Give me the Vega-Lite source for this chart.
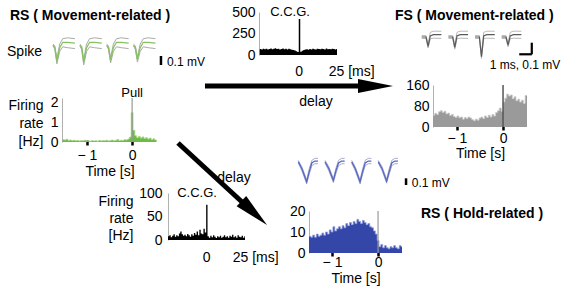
{
"$schema": "https://vega.github.io/schema/vega-lite/v6.json",
"width": 570, "height": 290, "padding": 0, "autosize": "none", "background": "white",
"config": {"view": {"stroke": null}, "font": "Liberation Sans",
  "axis": {"grid": false, "labelFont": "Liberation Sans", "titleFont": "Liberation Sans", "labelColor": "#000", "titleColor": "#000", "labelFontSize": 14, "titleFontSize": 14, "titleFontWeight": "normal", "domainColor": "#b0b0b0", "tickColor": "#000", "labelFlush": false, "labelOverlap": false}},
"datasets": {
 "green": [{"t":-1.54,"v":0.12},{"t":-1.50,"v":0.10},{"t":-1.46,"v":0.14},{"t":-1.42,"v":0.08},{"t":-1.38,"v":0.10},{"t":-1.34,"v":0.07},{"t":-1.30,"v":0.09},{"t":-1.26,"v":0.06},{"t":-1.22,"v":0.08},{"t":-1.18,"v":0.05},{"t":-1.14,"v":0.07},{"t":-1.10,"v":0.06},{"t":-1.06,"v":0.09},{"t":-1.02,"v":0.05},{"t":-0.98,"v":0.06},{"t":-0.94,"v":0.04},{"t":-0.90,"v":0.07},{"t":-0.86,"v":0.05},{"t":-0.82,"v":0.06},{"t":-0.78,"v":0.04},{"t":-0.74,"v":0.08},{"t":-0.70,"v":0.05},{"t":-0.66,"v":0.07},{"t":-0.62,"v":0.06},{"t":-0.58,"v":0.09},{"t":-0.54,"v":0.05},{"t":-0.50,"v":0.07},{"t":-0.46,"v":0.10},{"t":-0.42,"v":0.06},{"t":-0.38,"v":0.08},{"t":-0.34,"v":0.13},{"t":-0.30,"v":0.07},{"t":-0.26,"v":0.09},{"t":-0.22,"v":0.08},{"t":-0.18,"v":0.12},{"t":-0.14,"v":0.10},{"t":-0.10,"v":0.15},{"t":-0.06,"v":0.25},{"t":-0.02,"v":1.5},{"t":0.02,"v":0.6},{"t":0.06,"v":0.32},{"t":0.10,"v":0.22},{"t":0.14,"v":0.28},{"t":0.18,"v":0.20},{"t":0.22,"v":0.26},{"t":0.26,"v":0.18},{"t":0.30,"v":0.22},{"t":0.34,"v":0.15},{"t":0.38,"v":0.20},{"t":0.42,"v":0.12},{"t":0.46,"v":0.16},{"t":0.50,"v":0.10},{"t":0.54,"v":0.10}],
 "fs": [{"t":-1.52,"v":45},{"t":-1.48,"v":52},{"t":-1.44,"v":48},{"t":-1.40,"v":58},{"t":-1.36,"v":62},{"t":-1.32,"v":55},{"t":-1.28,"v":60},{"t":-1.24,"v":50},{"t":-1.20,"v":53},{"t":-1.16,"v":44},{"t":-1.12,"v":48},{"t":-1.08,"v":40},{"t":-1.04,"v":36},{"t":-1.00,"v":42},{"t":-0.96,"v":35},{"t":-0.92,"v":38},{"t":-0.88,"v":30},{"t":-0.84,"v":36},{"t":-0.80,"v":32},{"t":-0.76,"v":38},{"t":-0.72,"v":34},{"t":-0.68,"v":28},{"t":-0.64,"v":24},{"t":-0.60,"v":30},{"t":-0.56,"v":26},{"t":-0.52,"v":34},{"t":-0.48,"v":38},{"t":-0.44,"v":32},{"t":-0.40,"v":42},{"t":-0.36,"v":36},{"t":-0.32,"v":45},{"t":-0.28,"v":38},{"t":-0.24,"v":48},{"t":-0.20,"v":42},{"t":-0.16,"v":55},{"t":-0.12,"v":62},{"t":-0.08,"v":72},{"t":-0.04,"v":60},{"t":0.00,"v":95},{"t":0.04,"v":110},{"t":0.08,"v":125},{"t":0.12,"v":118},{"t":0.16,"v":122},{"t":0.20,"v":108},{"t":0.24,"v":115},{"t":0.28,"v":100},{"t":0.32,"v":106},{"t":0.36,"v":95},{"t":0.40,"v":102},{"t":0.44,"v":90},{"t":0.48,"v":120},{"t":0.52,"v":120}],
 "blue": [{"t":-1.50,"v":8},{"t":-1.46,"v":7.5},{"t":-1.42,"v":8.5},{"t":-1.38,"v":7.5},{"t":-1.34,"v":9},{"t":-1.30,"v":8},{"t":-1.26,"v":8.5},{"t":-1.22,"v":9.5},{"t":-1.18,"v":8.5},{"t":-1.14,"v":10},{"t":-1.10,"v":9},{"t":-1.06,"v":11},{"t":-1.02,"v":10},{"t":-0.98,"v":12.5},{"t":-0.94,"v":10.5},{"t":-0.90,"v":11.5},{"t":-0.86,"v":12.5},{"t":-0.82,"v":11.5},{"t":-0.78,"v":13},{"t":-0.74,"v":12},{"t":-0.70,"v":14},{"t":-0.66,"v":13},{"t":-0.62,"v":14.5},{"t":-0.58,"v":13.5},{"t":-0.54,"v":15},{"t":-0.50,"v":14},{"t":-0.46,"v":16},{"t":-0.42,"v":15},{"t":-0.38,"v":14},{"t":-0.34,"v":15.5},{"t":-0.30,"v":14.5},{"t":-0.26,"v":13.5},{"t":-0.22,"v":14},{"t":-0.18,"v":12.5},{"t":-0.14,"v":12},{"t":-0.10,"v":10.5},{"t":-0.06,"v":9},{"t":-0.02,"v":6},{"t":0.02,"v":3},{"t":0.06,"v":4},{"t":0.10,"v":2.5},{"t":0.14,"v":3.5},{"t":0.18,"v":2.5},{"t":0.22,"v":2},{"t":0.26,"v":3},{"t":0.30,"v":2.5},{"t":0.34,"v":3.5},{"t":0.38,"v":2.5},{"t":0.42,"v":2},{"t":0.46,"v":3.5},{"t":0.50,"v":3},{"t":0.52,"v":3}],
 "ccg1": [{"t":-26,"v":70},{"t":-25,"v":64},{"t":-24,"v":74},{"t":-23,"v":68},{"t":-22,"v":72},{"t":-21,"v":65},{"t":-20,"v":70},{"t":-19,"v":76},{"t":-18,"v":67},{"t":-17,"v":72},{"t":-16,"v":78},{"t":-15,"v":69},{"t":-14,"v":73},{"t":-13,"v":64},{"t":-12,"v":70},{"t":-11,"v":75},{"t":-10,"v":68},{"t":-9,"v":72},{"t":-8,"v":65},{"t":-7,"v":73},{"t":-6,"v":66},{"t":-5,"v":62},{"t":-4,"v":58},{"t":-3,"v":52},{"t":-2,"v":44},{"t":-1,"v":35},{"t":0,"v":420},{"t":1,"v":38},{"t":2,"v":50},{"t":3,"v":58},{"t":4,"v":63},{"t":5,"v":67},{"t":6,"v":60},{"t":7,"v":70},{"t":8,"v":65},{"t":9,"v":72},{"t":10,"v":68},{"t":11,"v":64},{"t":12,"v":74},{"t":13,"v":69},{"t":14,"v":66},{"t":15,"v":72},{"t":16,"v":70},{"t":17,"v":63},{"t":18,"v":75},{"t":19,"v":68},{"t":20,"v":71},{"t":21,"v":66},{"t":22,"v":73},{"t":23,"v":69},{"t":24,"v":64},{"t":25,"v":70},{"t":25.5,"v":70}],
 "ccg2": [{"t":-28,"v":8},{"t":-27,"v":10},{"t":-26,"v":6},{"t":-25,"v":9},{"t":-24,"v":12},{"t":-23,"v":7},{"t":-22,"v":10},{"t":-21,"v":8},{"t":-20,"v":14},{"t":-19,"v":18},{"t":-18,"v":12},{"t":-17,"v":9},{"t":-16,"v":11},{"t":-15,"v":8},{"t":-14,"v":13},{"t":-13,"v":10},{"t":-12,"v":7},{"t":-11,"v":12},{"t":-10,"v":9},{"t":-9,"v":15},{"t":-8,"v":11},{"t":-7,"v":18},{"t":-6,"v":10},{"t":-5,"v":22},{"t":-4,"v":14},{"t":-3,"v":12},{"t":-2,"v":24},{"t":-1,"v":16},{"t":0,"v":75},{"t":1,"v":8},{"t":2,"v":5},{"t":3,"v":9},{"t":4,"v":6},{"t":5,"v":10},{"t":6,"v":7},{"t":7,"v":4},{"t":8,"v":8},{"t":9,"v":6},{"t":10,"v":9},{"t":11,"v":5},{"t":12,"v":7},{"t":13,"v":10},{"t":14,"v":6},{"t":15,"v":8},{"t":16,"v":5},{"t":17,"v":9},{"t":18,"v":7},{"t":19,"v":11},{"t":20,"v":6},{"t":21,"v":8},{"t":22,"v":5},{"t":23,"v":10},{"t":24,"v":7},{"t":25,"v":6},{"t":26,"v":9},{"t":27,"v":5},{"t":28,"v":8},{"t":28.5,"v":8}],
 "wgreen": [
  {"c":1,"k":"m","t":0,"v":0},{"c":1,"k":"m","t":0.15,"v":-0.03},{"c":1,"k":"m","t":0.32,"v":-0.18},{"c":1,"k":"m","t":0.55,"v":-0.03},{"c":1,"k":"m","t":0.8,"v":0.03},{"c":1,"k":"m","t":1.2,"v":0.03},{"c":1,"k":"m","t":1.8,"v":0.02},
  {"c":1,"k":"u","t":0,"v":0.01},{"c":1,"k":"u","t":0.15,"v":-0.01},{"c":1,"k":"u","t":0.32,"v":-0.15},{"c":1,"k":"u","t":0.55,"v":0.01},{"c":1,"k":"u","t":0.8,"v":0.07},{"c":1,"k":"u","t":1.2,"v":0.08},{"c":1,"k":"u","t":1.8,"v":0.07},
  {"c":1,"k":"l","t":0,"v":-0.01},{"c":1,"k":"l","t":0.15,"v":-0.05},{"c":1,"k":"l","t":0.32,"v":-0.21},{"c":1,"k":"l","t":0.55,"v":-0.07},{"c":1,"k":"l","t":0.8,"v":-0.02},{"c":1,"k":"l","t":1.2,"v":-0.03},{"c":1,"k":"l","t":1.8,"v":-0.04},
  {"c":2,"k":"m","t":2.2,"v":0},{"c":2,"k":"m","t":2.35,"v":-0.03},{"c":2,"k":"m","t":2.52,"v":-0.19},{"c":2,"k":"m","t":2.75,"v":-0.03},{"c":2,"k":"m","t":3.0,"v":0.03},{"c":2,"k":"m","t":3.4,"v":0.03},{"c":2,"k":"m","t":4.0,"v":0.02},
  {"c":2,"k":"u","t":2.2,"v":0.01},{"c":2,"k":"u","t":2.35,"v":-0.01},{"c":2,"k":"u","t":2.52,"v":-0.16},{"c":2,"k":"u","t":2.75,"v":0.01},{"c":2,"k":"u","t":3.0,"v":0.07},{"c":2,"k":"u","t":3.4,"v":0.08},{"c":2,"k":"u","t":4.0,"v":0.07},
  {"c":2,"k":"l","t":2.2,"v":-0.01},{"c":2,"k":"l","t":2.35,"v":-0.05},{"c":2,"k":"l","t":2.52,"v":-0.22},{"c":2,"k":"l","t":2.75,"v":-0.07},{"c":2,"k":"l","t":3.0,"v":-0.02},{"c":2,"k":"l","t":3.4,"v":-0.03},{"c":2,"k":"l","t":4.0,"v":-0.04},
  {"c":3,"k":"m","t":4.4,"v":0},{"c":3,"k":"m","t":4.55,"v":-0.03},{"c":3,"k":"m","t":4.72,"v":-0.17},{"c":3,"k":"m","t":4.95,"v":-0.03},{"c":3,"k":"m","t":5.2,"v":0.03},{"c":3,"k":"m","t":5.6,"v":0.03},{"c":3,"k":"m","t":6.2,"v":0.02},
  {"c":3,"k":"u","t":4.4,"v":0.01},{"c":3,"k":"u","t":4.55,"v":-0.01},{"c":3,"k":"u","t":4.72,"v":-0.14},{"c":3,"k":"u","t":4.95,"v":0.01},{"c":3,"k":"u","t":5.2,"v":0.07},{"c":3,"k":"u","t":5.6,"v":0.08},{"c":3,"k":"u","t":6.2,"v":0.07},
  {"c":3,"k":"l","t":4.4,"v":-0.01},{"c":3,"k":"l","t":4.55,"v":-0.05},{"c":3,"k":"l","t":4.72,"v":-0.20},{"c":3,"k":"l","t":4.95,"v":-0.07},{"c":3,"k":"l","t":5.2,"v":-0.02},{"c":3,"k":"l","t":5.6,"v":-0.03},{"c":3,"k":"l","t":6.2,"v":-0.04},
  {"c":4,"k":"m","t":6.6,"v":0},{"c":4,"k":"m","t":6.75,"v":-0.03},{"c":4,"k":"m","t":6.92,"v":-0.16},{"c":4,"k":"m","t":7.15,"v":-0.03},{"c":4,"k":"m","t":7.4,"v":0.03},{"c":4,"k":"m","t":7.8,"v":0.03},{"c":4,"k":"m","t":8.4,"v":0.02},
  {"c":4,"k":"u","t":6.6,"v":0.01},{"c":4,"k":"u","t":6.75,"v":-0.01},{"c":4,"k":"u","t":6.92,"v":-0.13},{"c":4,"k":"u","t":7.15,"v":0.01},{"c":4,"k":"u","t":7.4,"v":0.07},{"c":4,"k":"u","t":7.8,"v":0.08},{"c":4,"k":"u","t":8.4,"v":0.07},
  {"c":4,"k":"l","t":6.6,"v":-0.01},{"c":4,"k":"l","t":6.75,"v":-0.05},{"c":4,"k":"l","t":6.92,"v":-0.19},{"c":4,"k":"l","t":7.15,"v":-0.07},{"c":4,"k":"l","t":7.4,"v":-0.02},{"c":4,"k":"l","t":7.8,"v":-0.03},{"c":4,"k":"l","t":8.4,"v":-0.04}],
 "wfs": [
  {"c":1,"k":"m","t":0,"v":0},{"c":1,"k":"m","t":0.35,"v":0},{"c":1,"k":"m","t":0.52,"v":-0.08},{"c":1,"k":"m","t":0.7,"v":0.01},{"c":1,"k":"m","t":0.95,"v":0.02},{"c":1,"k":"m","t":1.6,"v":0.02},
  {"c":1,"k":"u","t":0,"v":0.012},{"c":1,"k":"u","t":0.35,"v":0.012},{"c":1,"k":"u","t":0.52,"v":-0.06},{"c":1,"k":"u","t":0.7,"v":0.04},{"c":1,"k":"u","t":0.95,"v":0.05},{"c":1,"k":"u","t":1.6,"v":0.05},
  {"c":1,"k":"l","t":0,"v":-0.012},{"c":1,"k":"l","t":0.35,"v":-0.012},{"c":1,"k":"l","t":0.52,"v":-0.095},{"c":1,"k":"l","t":0.7,"v":-0.015},{"c":1,"k":"l","t":0.95,"v":-0.01},{"c":1,"k":"l","t":1.6,"v":-0.012},
  {"c":2,"k":"m","t":2.17,"v":0},{"c":2,"k":"m","t":2.52,"v":0},{"c":2,"k":"m","t":2.69,"v":-0.09},{"c":2,"k":"m","t":2.87,"v":0.01},{"c":2,"k":"m","t":3.12,"v":0.02},{"c":2,"k":"m","t":3.77,"v":0.02},
  {"c":2,"k":"u","t":2.17,"v":0.012},{"c":2,"k":"u","t":2.52,"v":0.012},{"c":2,"k":"u","t":2.69,"v":-0.07},{"c":2,"k":"u","t":2.87,"v":0.04},{"c":2,"k":"u","t":3.12,"v":0.05},{"c":2,"k":"u","t":3.77,"v":0.05},
  {"c":2,"k":"l","t":2.17,"v":-0.012},{"c":2,"k":"l","t":2.52,"v":-0.012},{"c":2,"k":"l","t":2.69,"v":-0.105},{"c":2,"k":"l","t":2.87,"v":-0.015},{"c":2,"k":"l","t":3.12,"v":-0.01},{"c":2,"k":"l","t":3.77,"v":-0.012},
  {"c":3,"k":"m","t":4.34,"v":0},{"c":3,"k":"m","t":4.69,"v":0},{"c":3,"k":"m","t":4.86,"v":-0.17},{"c":3,"k":"m","t":5.04,"v":0.01},{"c":3,"k":"m","t":5.29,"v":0.02},{"c":3,"k":"m","t":5.94,"v":0.02},
  {"c":3,"k":"u","t":4.34,"v":0.012},{"c":3,"k":"u","t":4.69,"v":0.012},{"c":3,"k":"u","t":4.86,"v":-0.15},{"c":3,"k":"u","t":5.04,"v":0.04},{"c":3,"k":"u","t":5.29,"v":0.05},{"c":3,"k":"u","t":5.94,"v":0.05},
  {"c":3,"k":"l","t":4.34,"v":-0.012},{"c":3,"k":"l","t":4.69,"v":-0.012},{"c":3,"k":"l","t":4.86,"v":-0.185},{"c":3,"k":"l","t":5.04,"v":-0.015},{"c":3,"k":"l","t":5.29,"v":-0.01},{"c":3,"k":"l","t":5.94,"v":-0.012},
  {"c":4,"k":"m","t":6.5,"v":0},{"c":4,"k":"m","t":6.85,"v":0},{"c":4,"k":"m","t":7.02,"v":-0.07},{"c":4,"k":"m","t":7.2,"v":0.01},{"c":4,"k":"m","t":7.45,"v":0.02},{"c":4,"k":"m","t":8.1,"v":0.02},
  {"c":4,"k":"u","t":6.5,"v":0.012},{"c":4,"k":"u","t":6.85,"v":0.012},{"c":4,"k":"u","t":7.02,"v":-0.05},{"c":4,"k":"u","t":7.2,"v":0.04},{"c":4,"k":"u","t":7.45,"v":0.05},{"c":4,"k":"u","t":8.1,"v":0.05},
  {"c":4,"k":"l","t":6.5,"v":-0.012},{"c":4,"k":"l","t":6.85,"v":-0.012},{"c":4,"k":"l","t":7.02,"v":-0.085},{"c":4,"k":"l","t":7.2,"v":-0.015},{"c":4,"k":"l","t":7.45,"v":-0.01},{"c":4,"k":"l","t":8.1,"v":-0.012}],
 "wblue": [
  {"c":1,"k":"m","t":0,"v":0},{"c":1,"k":"m","t":0.3,"v":-0.11},{"c":1,"k":"m","t":0.68,"v":-0.3},{"c":1,"k":"m","t":0.9,"v":-0.14},{"c":1,"k":"m","t":1.1,"v":-0.02},{"c":1,"k":"m","t":1.35,"v":0.01},{"c":1,"k":"m","t":1.6,"v":0.01},
  {"c":1,"k":"u","t":0,"v":0.02},{"c":1,"k":"u","t":0.3,"v":-0.08},{"c":1,"k":"u","t":0.68,"v":-0.27},{"c":1,"k":"u","t":0.9,"v":-0.1},{"c":1,"k":"u","t":1.1,"v":0.02},{"c":1,"k":"u","t":1.35,"v":0.05},{"c":1,"k":"u","t":1.6,"v":0.05},
  {"c":1,"k":"l","t":0,"v":-0.02},{"c":1,"k":"l","t":0.3,"v":-0.14},{"c":1,"k":"l","t":0.68,"v":-0.33},{"c":1,"k":"l","t":0.9,"v":-0.18},{"c":1,"k":"l","t":1.1,"v":-0.06},{"c":1,"k":"l","t":1.35,"v":-0.03},{"c":1,"k":"l","t":1.6,"v":-0.03},
  {"c":2,"k":"m","t":2.17,"v":0},{"c":2,"k":"m","t":2.47,"v":-0.1},{"c":2,"k":"m","t":2.85,"v":-0.28},{"c":2,"k":"m","t":3.07,"v":-0.13},{"c":2,"k":"m","t":3.27,"v":-0.02},{"c":2,"k":"m","t":3.52,"v":0.01},{"c":2,"k":"m","t":3.77,"v":0.01},
  {"c":2,"k":"u","t":2.17,"v":0.02},{"c":2,"k":"u","t":2.47,"v":-0.07},{"c":2,"k":"u","t":2.85,"v":-0.25},{"c":2,"k":"u","t":3.07,"v":-0.09},{"c":2,"k":"u","t":3.27,"v":0.02},{"c":2,"k":"u","t":3.52,"v":0.05},{"c":2,"k":"u","t":3.77,"v":0.05},
  {"c":2,"k":"l","t":2.17,"v":-0.02},{"c":2,"k":"l","t":2.47,"v":-0.13},{"c":2,"k":"l","t":2.85,"v":-0.31},{"c":2,"k":"l","t":3.07,"v":-0.17},{"c":2,"k":"l","t":3.27,"v":-0.06},{"c":2,"k":"l","t":3.52,"v":-0.03},{"c":2,"k":"l","t":3.77,"v":-0.03},
  {"c":3,"k":"m","t":4.34,"v":0},{"c":3,"k":"m","t":4.64,"v":-0.11},{"c":3,"k":"m","t":5.02,"v":-0.3},{"c":3,"k":"m","t":5.24,"v":-0.14},{"c":3,"k":"m","t":5.44,"v":-0.02},{"c":3,"k":"m","t":5.69,"v":0.01},{"c":3,"k":"m","t":5.94,"v":0.01},
  {"c":3,"k":"u","t":4.34,"v":0.02},{"c":3,"k":"u","t":4.64,"v":-0.08},{"c":3,"k":"u","t":5.02,"v":-0.27},{"c":3,"k":"u","t":5.24,"v":-0.1},{"c":3,"k":"u","t":5.44,"v":0.02},{"c":3,"k":"u","t":5.69,"v":0.05},{"c":3,"k":"u","t":5.94,"v":0.05},
  {"c":3,"k":"l","t":4.34,"v":-0.02},{"c":3,"k":"l","t":4.64,"v":-0.14},{"c":3,"k":"l","t":5.02,"v":-0.33},{"c":3,"k":"l","t":5.24,"v":-0.18},{"c":3,"k":"l","t":5.44,"v":-0.06},{"c":3,"k":"l","t":5.69,"v":-0.03},{"c":3,"k":"l","t":5.94,"v":-0.03},
  {"c":4,"k":"m","t":6.5,"v":0},{"c":4,"k":"m","t":6.8,"v":-0.1},{"c":4,"k":"m","t":7.18,"v":-0.29},{"c":4,"k":"m","t":7.4,"v":-0.14},{"c":4,"k":"m","t":7.6,"v":-0.02},{"c":4,"k":"m","t":7.85,"v":0.01},{"c":4,"k":"m","t":8.1,"v":0.01},
  {"c":4,"k":"u","t":6.5,"v":0.02},{"c":4,"k":"u","t":6.8,"v":-0.07},{"c":4,"k":"u","t":7.18,"v":-0.26},{"c":4,"k":"u","t":7.4,"v":-0.1},{"c":4,"k":"u","t":7.6,"v":0.02},{"c":4,"k":"u","t":7.85,"v":0.05},{"c":4,"k":"u","t":8.1,"v":0.05},
  {"c":4,"k":"l","t":6.5,"v":-0.02},{"c":4,"k":"l","t":6.8,"v":-0.13},{"c":4,"k":"l","t":7.18,"v":-0.32},{"c":4,"k":"l","t":7.4,"v":-0.18},{"c":4,"k":"l","t":7.6,"v":-0.06},{"c":4,"k":"l","t":7.85,"v":-0.03},{"c":4,"k":"l","t":8.1,"v":-0.03}]
},
"layer": [
 {"data": {"name": "green"},
  "layer": [
   {"mark": {"type": "area", "interpolate": "step-after", "orient": "vertical", "color": "#6cbb45"},
    "encoding": {
     "x": {"field": "t", "type": "quantitative", "scale": {"domain": [-1.55, 0.55], "range": [62, 157], "nice": false, "zero": false},
           "axis": {"orient": "bottom", "offset": -150, "values": [-1, 0], "domain": false, "tickSize": 5, "tickWidth": 2.5, "labelPadding": 10, "labelBaseline": "middle", "labelExpr": "datum.value < 0 ? '− ' + abs(datum.value) : '' + datum.value", "title": "Time [s]", "titleY": 31, "titleBaseline": "middle", "titleFontSize": 14}},
     "y": {"field": "v", "type": "quantitative", "scale": {"domain": [0, 2.25], "range": [142, 98], "nice": false},
           "axis": {"orient": "left", "offset": -62, "values": [0, 1, 2], "format": "d", "ticks": false, "labelPadding": 4, "title": ["Firing", "rate", "[Hz]"], "titleAngle": 0, "titleAlign": "right", "titleBaseline": "middle", "titleX": -19, "titleY": 105, "titleLineHeight": 18}}}},
   {"mark": {"type": "line", "interpolate": "step-after", "color": "#a6d684", "strokeWidth": 0.8},
    "encoding": {"x": {"field": "t", "type": "quantitative"}, "y": {"field": "v", "type": "quantitative"}}},
   {"data": {"values": [{"t": 0, "lo": 0, "hi": 2.25}]}, "mark": {"type": "rule", "color": "#999999", "strokeWidth": 1.2},
    "encoding": {"x": {"field": "t", "type": "quantitative"}, "y": {"field": "lo", "type": "quantitative"}, "y2": {"field": "hi"}}},
   {"data": {"values": [{"t": 0, "v": 2.5, "s": "Pull"}]}, "mark": {"type": "text", "fontSize": 13, "baseline": "middle", "align": "center"},
    "encoding": {"x": {"field": "t", "type": "quantitative"}, "y": {"field": "v", "type": "quantitative"}, "text": {"field": "s"}}}
  ]},
 {"data": {"name": "ccg1"},
  "layer": [
   {"mark": {"type": "area", "interpolate": "step-after", "orient": "vertical", "color": "#000000"},
    "encoding": {
     "x": {"field": "t", "type": "quantitative", "scale": {"domain": [-26.5, 25.5], "range": [259, 337], "nice": false, "zero": false},
           "axis": {"orient": "bottom", "offset": -235, "values": [0, 25], "domain": false, "ticks": false, "labelPadding": 16, "labelBaseline": "middle", "labelExpr": "datum.value == 25 ? '25 [ms]' : '' + datum.value", "labelAlign": {"condition": {"test": "datum.value == 25", "value": "left"}, "value": "center"}, "labelOffset": {"condition": {"test": "datum.value == 25", "value": -8}, "value": 0}, "title": null}},
     "y": {"field": "v", "type": "quantitative", "scale": {"domain": [0, 500], "range": [55, 12], "nice": false},
           "axis": {"orient": "left", "offset": -259, "values": [0, 250, 500], "format": "d", "ticks": false, "labelPadding": 4, "title": null}}}},
   {"data": {"values": [{"t": -5.8, "v": 500, "s": "C.C.G."}]}, "mark": {"type": "text", "fontSize": 13, "baseline": "middle", "align": "center"},
    "encoding": {"x": {"field": "t", "type": "quantitative"}, "y": {"field": "v", "type": "quantitative"}, "text": {"field": "s"}}}
  ]},
 {"data": {"name": "ccg2"},
  "layer": [
   {"mark": {"type": "area", "interpolate": "step-after", "orient": "vertical", "color": "#000000"},
    "encoding": {
     "x": {"field": "t", "type": "quantitative", "scale": {"domain": [-28, 28.5], "range": [168, 245], "nice": false, "zero": false},
           "axis": {"orient": "bottom", "offset": -50, "values": [0, 25], "domain": false, "ticks": false, "labelPadding": 17, "labelBaseline": "middle", "labelExpr": "datum.value == 25 ? '25 [ms]' : '' + datum.value", "labelAlign": {"condition": {"test": "datum.value == 25", "value": "left"}, "value": "center"}, "labelOffset": {"condition": {"test": "datum.value == 25", "value": -8}, "value": 0}, "title": null}},
     "y": {"field": "v", "type": "quantitative", "scale": {"domain": [0, 100], "range": [240, 193], "nice": false},
           "axis": {"orient": "left", "offset": -168, "values": [0, 50, 100], "format": "d", "ticks": false, "labelPadding": 6, "title": ["Firing", "rate", "[Hz]"], "titleAngle": 0, "titleAlign": "right", "titleBaseline": "middle", "titleX": -35, "titleY": 201, "titleLineHeight": 17}}}},
   {"data": {"values": [{"t": -6.7, "v": 100, "s": "C.C.G."}]}, "mark": {"type": "text", "fontSize": 13, "baseline": "middle", "align": "center"},
    "encoding": {"x": {"field": "t", "type": "quantitative"}, "y": {"field": "v", "type": "quantitative"}, "text": {"field": "s"}}}
  ]},
 {"data": {"name": "fs"},
  "layer": [
   {"mark": {"type": "area", "interpolate": "step-after", "orient": "vertical", "color": "#9a9a9a"},
    "encoding": {
     "x": {"field": "t", "type": "quantitative", "scale": {"domain": [-1.52, 0.52], "range": [433, 527], "nice": false, "zero": false},
           "axis": {"orient": "bottom", "offset": -165, "values": [-1, 0], "domain": false, "tickSize": 5, "tickWidth": 2.5, "labelPadding": 8, "labelBaseline": "middle", "labelExpr": "datum.value < 0 ? '− ' + abs(datum.value) : '' + datum.value", "title": "Time [s]", "titleY": 28.5, "titleBaseline": "middle", "titleFontSize": 14}},
     "y": {"field": "v", "type": "quantitative", "scale": {"domain": [0, 160], "range": [127, 85], "nice": false},
           "axis": {"orient": "left", "offset": -433, "values": [0, 80, 160], "format": "d", "ticks": false, "labelPadding": 4, "title": null}}}},
   {"mark": {"type": "line", "interpolate": "step-after", "color": "#c8c8c8", "strokeWidth": 0.8},
    "encoding": {"x": {"field": "t", "type": "quantitative"}, "y": {"field": "v", "type": "quantitative"}}},
   {"data": {"values": [{"t": 0, "lo": 0, "hi": 160}]}, "mark": {"type": "rule", "color": "#555555", "strokeWidth": 1.5},
    "encoding": {"x": {"field": "t", "type": "quantitative"}, "y": {"field": "lo", "type": "quantitative"}, "y2": {"field": "hi"}}}
  ]},
 {"data": {"name": "blue"},
  "layer": [
   {"mark": {"type": "area", "interpolate": "step-after", "orient": "vertical", "color": "#3446a8"},
    "encoding": {
     "x": {"field": "t", "type": "quantitative", "scale": {"domain": [-1.5, 0.52], "range": [309, 402], "nice": false, "zero": false},
           "axis": {"orient": "bottom", "offset": -39, "values": [-1, 0], "domain": false, "tickSize": 5, "tickWidth": 2.5, "labelPadding": 6, "labelBaseline": "middle", "labelExpr": "datum.value < 0 ? '− ' + abs(datum.value) : '' + datum.value", "title": "Time [s]", "titleY": 27, "titleBaseline": "middle", "titleFontSize": 14}},
     "y": {"field": "v", "type": "quantitative", "scale": {"domain": [0, 20], "range": [253, 211], "nice": false},
           "axis": {"orient": "left", "offset": -309, "values": [0, 10, 20], "format": "d", "ticks": false, "labelPadding": 4, "title": null}}}},
   {"mark": {"type": "line", "interpolate": "step-after", "color": "#8c9ae0", "strokeWidth": 0.8},
    "encoding": {"x": {"field": "t", "type": "quantitative"}, "y": {"field": "v", "type": "quantitative"}}},
   {"data": {"values": [{"t": 0, "lo": 0, "hi": 20}]}, "mark": {"type": "rule", "color": "#999999", "strokeWidth": 1.2},
    "encoding": {"x": {"field": "t", "type": "quantitative"}, "y": {"field": "lo", "type": "quantitative"}, "y2": {"field": "hi"}}}
  ]},
 {"data": {"name": "wgreen"},
  "layer": [
   {"transform": [{"filter": "datum.k != 'm'"}], "mark": {"type": "line", "color": "#aaaaaa", "strokeWidth": 1},
    "encoding": {"x": {"field": "t", "type": "quantitative", "scale": {"domain": [0, 10], "range": [53, 175], "nice": false, "zero": false}, "axis": null},
                 "y": {"field": "v", "type": "quantitative", "scale": {"domain": [-0.3, 0.1], "range": [72, 36], "nice": false, "zero": false}, "axis": null},
                 "detail": [{"field": "c"}, {"field": "k"}]}},
   {"transform": [{"filter": "datum.k == 'm'"}], "mark": {"type": "line", "color": "#86c35f", "strokeWidth": 1.3},
    "encoding": {"x": {"field": "t", "type": "quantitative"}, "y": {"field": "v", "type": "quantitative"}, "detail": {"field": "c"}}},
   {"data": {"values": [{"t": 8.85, "lo": -0.222, "hi": -0.122}]}, "mark": {"type": "rule", "color": "#000000", "strokeWidth": 2.5},
    "encoding": {"x": {"field": "t", "type": "quantitative"}, "y": {"field": "lo", "type": "quantitative"}, "y2": {"field": "hi"}}},
   {"data": {"values": [{"t": 9.34, "v": -0.189, "s": "0.1 mV"}]}, "mark": {"type": "text", "fontSize": 12, "align": "left", "baseline": "middle"},
    "encoding": {"x": {"field": "t", "type": "quantitative"}, "y": {"field": "v", "type": "quantitative"}, "text": {"field": "s"}}}
  ]},
 {"data": {"name": "wfs"},
  "layer": [
   {"transform": [{"filter": "datum.k != 'm'"}], "mark": {"type": "line", "color": "#b8b8b8", "strokeWidth": 1},
    "encoding": {"x": {"field": "t", "type": "quantitative", "scale": {"domain": [0, 10], "range": [421.7, 544.7], "nice": false, "zero": false}, "axis": null},
                 "y": {"field": "v", "type": "quantitative", "scale": {"domain": [-0.25, 0.1], "range": [66, 25.4], "nice": false, "zero": false}, "axis": null},
                 "detail": [{"field": "c"}, {"field": "k"}]}},
   {"transform": [{"filter": "datum.k == 'm'"}], "mark": {"type": "line", "color": "#5a5a5a", "strokeWidth": 1.2},
    "encoding": {"x": {"field": "t", "type": "quantitative"}, "y": {"field": "v", "type": "quantitative"}, "detail": {"field": "c"}}},
   {"data": {"values": [{"t": 7.93, "t2": 8.95, "v": -0.149, "v2": -0.149}, {"t": 8.95, "t2": 8.95, "v": -0.149, "v2": -0.049}]}, "mark": {"type": "rule", "color": "#000000", "strokeWidth": 2.2},
    "encoding": {"x": {"field": "t", "type": "quantitative"}, "x2": {"field": "t2"}, "y": {"field": "v", "type": "quantitative"}, "y2": {"field": "v2"}}},
   {"data": {"values": [{"t": 8.4, "v": -0.241, "s": "1 ms, 0.1 mV"}]}, "mark": {"type": "text", "fontSize": 12, "align": "center", "baseline": "middle"},
    "encoding": {"x": {"field": "t", "type": "quantitative"}, "y": {"field": "v", "type": "quantitative"}, "text": {"field": "s"}}}
  ]},
 {"data": {"name": "wblue"},
  "layer": [
   {"transform": [{"filter": "datum.k != 'm'"}], "mark": {"type": "line", "color": "#a9aed0", "strokeWidth": 1},
    "encoding": {"x": {"field": "t", "type": "quantitative", "scale": {"domain": [0, 10], "range": [298.3, 421.3], "nice": false, "zero": false}, "axis": null},
                 "y": {"field": "v", "type": "quantitative", "scale": {"domain": [-0.4, 0.1], "range": [188.5, 155], "nice": false, "zero": false}, "axis": null},
                 "detail": [{"field": "c"}, {"field": "k"}]}},
   {"transform": [{"filter": "datum.k == 'm'"}], "mark": {"type": "line", "color": "#5667c0", "strokeWidth": 1.3},
    "encoding": {"x": {"field": "t", "type": "quantitative"}, "y": {"field": "v", "type": "quantitative"}, "detail": {"field": "c"}}},
   {"data": {"values": [{"t": 8.76, "lo": -0.348, "hi": -0.248}]}, "mark": {"type": "rule", "color": "#000000", "strokeWidth": 2.5},
    "encoding": {"x": {"field": "t", "type": "quantitative"}, "y": {"field": "lo", "type": "quantitative"}, "y2": {"field": "hi"}}},
   {"data": {"values": [{"t": 9.22, "v": -0.318, "s": "0.1 mV"}]}, "mark": {"type": "text", "fontSize": 12, "align": "left", "baseline": "middle"},
    "encoding": {"x": {"field": "t", "type": "quantitative"}, "y": {"field": "v", "type": "quantitative"}, "text": {"field": "s"}}}
  ]},
 {"layer": [
   {"data": {"values": [{"x": 1.75, "y": 5.52, "s": "RS ( Movement-related )"}, {"x": 69.3, "y": 5.52, "s": "FS ( Movement-related )"}, {"x": 73.86, "y": 73.79, "s": "RS ( Hold-related )"}]},
    "mark": {"type": "text", "align": "left", "baseline": "middle", "fontSize": 14, "fontWeight": "bold"},
    "encoding": {"x": {"field": "x", "type": "quantitative", "scale": {"domain": [0, 100], "range": [0, 570], "nice": false, "zero": false}, "axis": null},
                 "y": {"field": "y", "type": "quantitative", "scale": {"domain": [0, 100], "range": [0, 290], "nice": false, "zero": false}, "axis": null},
                 "text": {"field": "s"}}},
   {"data": {"values": [{"x": 1.23, "y": 17.93, "s": "Spike"}]},
    "mark": {"type": "text", "align": "left", "baseline": "middle", "fontSize": 14},
    "encoding": {"x": {"field": "x", "type": "quantitative"}, "y": {"field": "y", "type": "quantitative"}, "text": {"field": "s"}}},
   {"data": {"values": [{"x": 55.44, "y": 35.17, "s": "delay"}, {"x": 41.05, "y": 61.38, "s": "delay"}]},
    "mark": {"type": "text", "align": "center", "baseline": "middle", "fontSize": 14},
    "encoding": {"x": {"field": "x", "type": "quantitative"}, "y": {"field": "y", "type": "quantitative"}, "text": {"field": "s"}}},
   {"data": {"values": [{"x": 35.96, "y": 29.66, "x2": 65.96, "y2": 29.66}, {"x": 31.23, "y": 49.31, "x2": 44.56, "y2": 73.45}]},
    "mark": {"type": "rule", "color": "#000000", "strokeWidth": 5},
    "encoding": {"x": {"field": "x", "type": "quantitative"}, "y": {"field": "y", "type": "quantitative"}, "x2": {"field": "x2"}, "y2": {"field": "y2"}}},
   {"data": {"values": [{"x": 65.88, "y": 29.66}]},
    "mark": {"type": "point", "shape": "M1,0L-1,-0.4L-1,0.4Z", "size": 1225, "filled": true, "color": "#000000", "opacity": 1, "angle": 0},
    "encoding": {"x": {"field": "x", "type": "quantitative"}, "y": {"field": "y", "type": "quantitative"}}},
   {"data": {"values": [{"x": 44.6, "y": 73.48}]},
    "mark": {"type": "point", "shape": "M1,0L-1,-0.4L-1,0.4Z", "size": 1225, "filled": true, "color": "#000000", "opacity": 1, "angle": 43},
    "encoding": {"x": {"field": "x", "type": "quantitative"}, "y": {"field": "y", "type": "quantitative"}}}
  ]}
],
"resolve": {"scale": {"x": "independent", "y": "independent"}, "axis": {"x": "independent", "y": "independent"}}
}
